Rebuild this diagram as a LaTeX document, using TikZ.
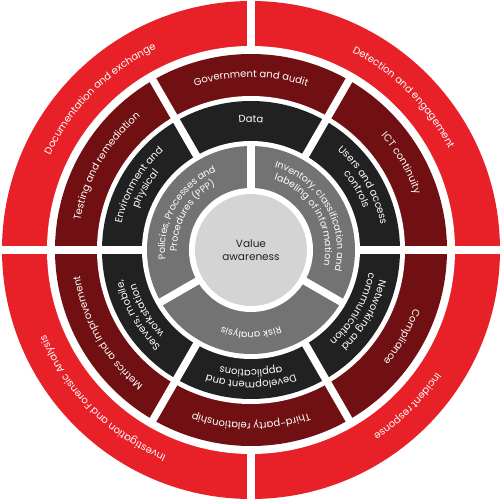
\documentclass[tikz,border=0pt]{standalone}
\usepackage{fontspec}
\setmainfont{Poppins}
\usepackage{tikz}
\usetikzlibrary{decorations.text}
\definecolor{ringred}{RGB}{232,33,41}
\definecolor{ringmaroon}{RGB}{113,16,18}
\definecolor{ringdark}{RGB}{33,33,33}
\definecolor{ringgrey}{RGB}{115,115,115}
\definecolor{corelight}{RGB}{212,212,212}
\tikzset{
  redring/.style={fill=ringred},
  maroonring/.style={fill=ringmaroon},
  darkring/.style={fill=ringdark},
  greyring/.style={fill=ringgrey},
  corering/.style={fill=corelight},
  spacer/.style={fill=white},
  ringgap/.style={draw=white, line width=7.5pt},
  corelabel/.style={font=\fontsize{10.5}{13}\selectfont, text=ringdark, align=center}
}
\newcommand{\lbl}{\fontsize{10}{12}\selectfont\color{white}}
\newcommand{\smalllbl}{\fontsize{9.5}{11}\selectfont\color{white}}
% radius, start angle, end angle (clockwise), text
\newcommand{\arclabel}[4]{%
  \path[decorate,decoration={text along path,text align=center,text={#4}}]
    (#2:#1) arc[start angle=#2,end angle=#3,radius=#1];}

\begin{document}
\begin{tikzpicture}[x=1pt,y=1pt]
  \fill[white] (-251,-251) rectangle (250,250);
  \useasboundingbox (-251,-251) rectangle (250,250);

  % rings
  \fill[redring] (0,0) circle[radius=249];
  \fill[spacer] (0,0) circle[radius=204];
  \fill[maroonring] (0,0) circle[radius=196];
  \fill[spacer] (0,0) circle[radius=154];
  \fill[darkring] (0,0) circle[radius=149];
  \fill[spacer] (0,0) circle[radius=109];
  \fill[greyring] (0,0) circle[radius=104];
  \fill[spacer] (0,0) circle[radius=62];
  \fill[corering] (0,0) circle[radius=56];

  % gaps between segments
  \foreach \a in {0,90,180,270}
    \draw[ringgap] (\a:200) -- (\a:252);
  \foreach \a in {0,60,...,300}
    \draw[ringgap] (\a:106) -- (\a:200);
  \foreach \a in {90,210,330}
    \draw[ringgap] (\a:59) -- (\a:106);

  % outer ring
  \arclabel{222}{180}{90}{|\lbl|Documentation and exchange}
  \arclabel{222}{90}{0}{|\lbl|Detection and engagement}
  \arclabel{222}{0}{-90}{|\lbl|Incident response}
  \arclabel{222}{270}{180}{|\lbl|Investigation and Forensic Analysis}

  % second ring
  \arclabel{173}{120}{60}{|\lbl|Government and audit}
  \arclabel{173}{60}{0}{|\lbl|ICT continuity}
  \arclabel{173}{0}{-60}{|\lbl|Compliance}
  \arclabel{173}{300}{240}{|\lbl|Third-party relationship}
  \arclabel{173}{240}{180}{|\lbl|Metrics and improvement}
  \arclabel{173}{180}{120}{|\lbl|Testing and remediation}

  % third ring
  \arclabel{128}{120}{60}{|\lbl|Data}
  \arclabel{132}{60}{0}{|\lbl|Users and access}
  \arclabel{120}{60}{0}{|\lbl|controls}
  \arclabel{132}{0}{-60}{|\lbl|Networking and}
  \arclabel{120}{0}{-60}{|\lbl|communication}
  \arclabel{132}{300}{240}{|\lbl|Development and}
  \arclabel{120}{300}{240}{|\lbl|applications}
  \arclabel{132}{240}{180}{|\lbl|Servers, mobile,}
  \arclabel{120}{240}{180}{|\lbl|workstation}
  \arclabel{132}{180}{120}{|\lbl|Environment and}
  \arclabel{120}{180}{120}{|\lbl|physical}

  % inner ring
  \arclabel{86}{210}{90}{|\smalllbl|Policies, Processes and}
  \arclabel{74}{210}{90}{|\smalllbl|Procedures (PPP)}
  \arclabel{86}{90}{-30}{|\smalllbl|Inventory, classification and}
  \arclabel{74}{90}{-30}{|\smalllbl|labeling of information}
  \arclabel{82}{330}{210}{|\smalllbl|Risk analysis}

  \node[corelabel] (value) at (0,0) {Value\\awareness};
\end{tikzpicture}
\end{document}
